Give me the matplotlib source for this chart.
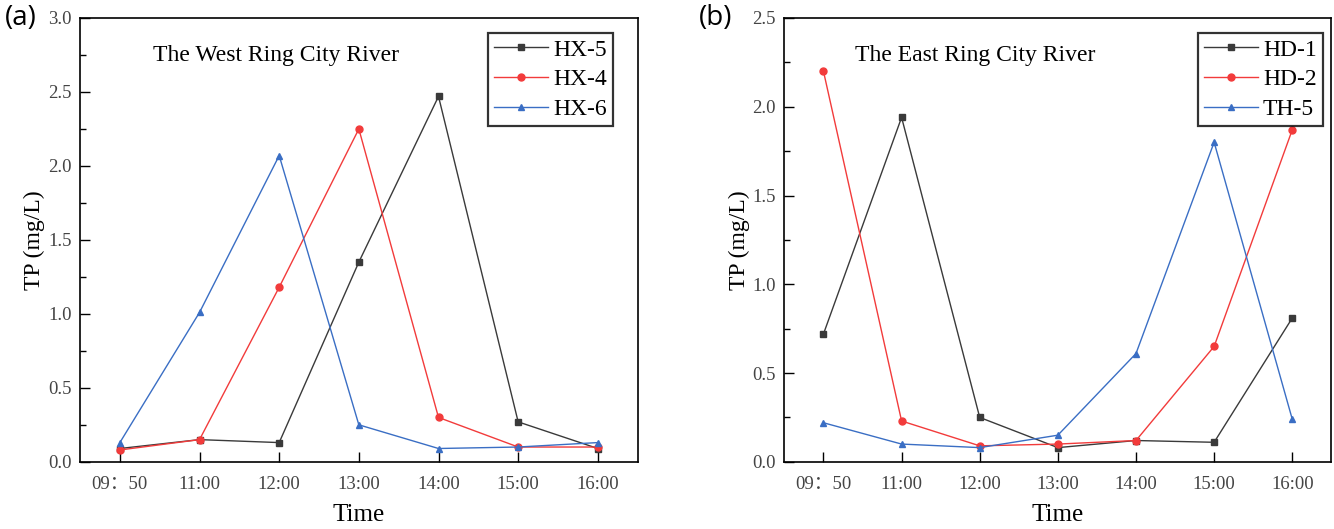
import numpy as np
import matplotlib
matplotlib.use("Agg")
import matplotlib.pyplot as plt
from matplotlib.ticker import MultipleLocator

plt.rcParams['font.family'] = ['Liberation Serif', 'Noto Sans CJK SC', 'DejaVu Sans']

times = ["09：50", "11:00", "12:00", "13:00", "14:00", "15:00", "16:00"]

# (a) West Ring City River
hx5 = [0.09, 0.15, 0.13, 1.35, 2.47, 0.27, 0.09]
hx4 = [0.08, 0.15, 1.18, 2.25, 0.30, 0.10, 0.10]
hx6 = [0.13, 1.01, 2.07, 0.25, 0.09, 0.10, 0.13]

# (b) East Ring City River
hd1 = [0.72, 1.94, 0.25, 0.08, 0.12, 0.11, 0.81]
hd2 = [2.20, 0.23, 0.09, 0.10, 0.12, 0.65, 1.87]
th5 = [0.22, 0.10, 0.08, 0.15, 0.61, 1.80, 0.24]

black = '#3a3a3a'
red = '#f23b3b'
blue = '#3a6ec4'


def draw(ax, series, title, ymax, leg_x):
    x = np.arange(len(times))
    for vals, name, c, m in series:
        ax.plot(x, vals, color=c, marker=m, markersize=5, lw=1.0, label=name)
    ax.set_xlim(-0.5, 6.5)
    ax.set_ylim(0, ymax)
    ax.set_xticks(x)
    ax.set_xticklabels(times)
    ax.yaxis.set_major_locator(MultipleLocator(0.5))
    ax.yaxis.set_minor_locator(MultipleLocator(0.25))
    ax.yaxis.set_major_formatter(plt.FormatStrFormatter('%.1f'))
    ax.tick_params(direction='in', length=7, width=1.0, labelsize=13.5,
                   labelcolor='#444444', top=False, right=False)
    ax.tick_params(which='minor', direction='in', length=4, width=1.0,
                   top=False, right=False)
    ax.tick_params(axis='x', pad=10)
    ax.tick_params(axis='y', pad=6)
    for s in ax.spines.values():
        s.set_linewidth(1.2)
    ax.set_xlabel("Time", fontsize=18, labelpad=8)
    ax.set_ylabel("TP (mg/L)", fontsize=17, labelpad=2)
    ax.text(0.13, 0.903, title, transform=ax.transAxes, fontsize=17)
    leg = ax.legend(loc='upper right', bbox_to_anchor=(leg_x, 0.966), fontsize=17,
                    frameon=True, fancybox=False, edgecolor='black',
                    handlelength=2.3, handletextpad=0.2, borderpad=0.25,
                    labelspacing=0.35, borderaxespad=0)
    leg.get_frame().set_linewidth(1.6)


fig = plt.figure(figsize=(13.34, 5.29), dpi=100)
ax1 = fig.add_axes([0.060, 0.127, 0.418, 0.839])
ax2 = fig.add_axes([0.588, 0.127, 0.410, 0.839])

draw(ax1, [(hx5, "HX-5", black, 's'), (hx4, "HX-4", red, 'o'), (hx6, "HX-6", blue, '^')],
     "The West Ring City River", 3.0, 0.955)
draw(ax2, [(hd1, "HD-1", black, 's'), (hd2, "HD-2", red, 'o'), (th5, "TH-5", blue, '^')],
     "The East Ring City River", 2.5, 0.984)

fig.text(0.004, 0.992, "(a)", fontsize=20, family='Open Sans', va='top')
fig.text(0.524, 0.992, "(b)", fontsize=20, family='Open Sans', va='top')

fig.savefig("out.png", dpi=100)
